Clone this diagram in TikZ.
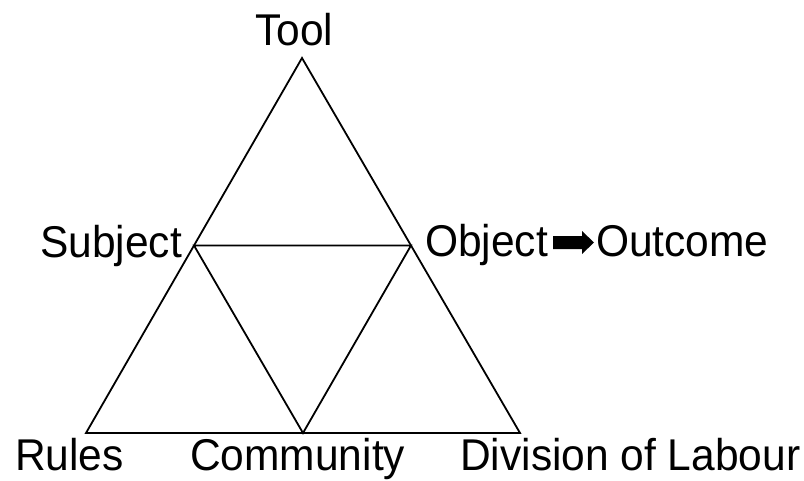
\documentclass[tikz,border=0pt]{standalone}
\usepackage{fontspec}
\setmainfont{Liberation Sans}[FakeStretch=0.955]
\begin{document}
\begin{tikzpicture}[x=1pt,y=-1pt,
  edge/.style={draw=black,line width=1.8pt,line join=miter},
  lbl/.style={inner sep=0pt,anchor=base west,font=\fontsize{44.5}{50}\selectfont,text=black}]
\useasboundingbox[fill=white] (0,0) rectangle (804,480);
\coordinate (T) at (302,58);
\coordinate (L) at (86,433);
\coordinate (R) at (520,433);
\coordinate (S) at (194,245.5);
\coordinate (O) at (411,245.5);
\coordinate (C) at (303,433);
\draw[edge] (T) -- (L) -- (R) -- cycle;
\draw[edge] (S) -- (O) -- (C) -- cycle;
\node[lbl] (tool) at (255,45) {Tool};
\node[lbl] (subj) at (40,257) {Subject};
\node[lbl] (obj) at (425,256) {Object};
\node[lbl] (out) at (596,256) {Outcome};
\node[lbl] (rules) at (15,470) {Rules};
\node[lbl] (comm) at (190,470) {Community};
\node[lbl] (div) at (460,470) {Division of Labour};
\fill[black] (553,236) -- (582,236) -- (582,231) -- (594,242.5) -- (582,254) -- (582,249) -- (553,249) -- cycle;
\end{tikzpicture}
\end{document}
